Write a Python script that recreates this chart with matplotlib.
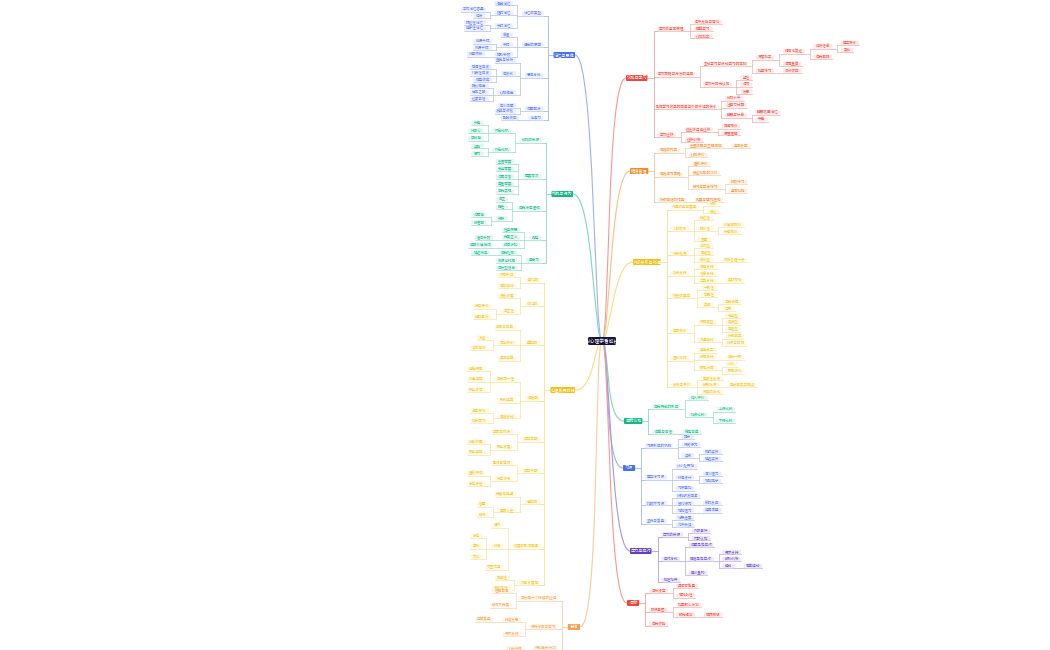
import matplotlib.pyplot as plt
from matplotlib.patches import FancyBboxPatch
from matplotlib.path import Path
from matplotlib.patches import PathPatch

plt.rcParams['font.family'] = ['Noto Sans CJK SC', 'DejaVu Sans']

root_label = '从心理学看成长'
root_pos = (602, 341)

# branch: label, side, colour, anchor (x, y), y-range of leaves, outline
branch_labels = ['认知与学习', '情绪管理', '人际关系与沟通', '自我认知', '习惯', '压力与应对', '目标',
                 '记忆与思维', '动机与行为', '心理发展阶段', '总结']
branch_sides = [1, 1, 1, 1, 1, 1, 1, -1, -1, -1, -1]
branch_colors = ['#f0453a', '#f08a2c', '#f2c21b', '#12b886', '#4c6ef5', '#5f3dc4', '#f0453a',
                 '#4c6ef5', '#12b886', '#f2c21b', '#f5a04a']
branch_pos = [(626, 78), (630, 171), (633, 262), (624, 421), (623, 468), (630, 551), (627, 603),
              (575, 55), (573, 194), (575, 390), (580, 627)]
branch_ranges = [(22, 140), (146, 200), (204, 392), (398, 432), (437, 525), (531, 580), (586, 624),
                 (3, 118), (123, 268), (275, 588), (591, 648)]

outline_red = """学习的基本原理
 条件反射与强化
 观察学习
 认知加工
学习策略与方法的选择
 主动学习与被动学习的区别
  深度加工
   精细化复述
    组织信息
     建立联系
     类比
    自我解释
   间隔重复
  检索练习
   测试效应
 学习中的元认知
  监控
  调节
  反思
影响学习效果的因素与外部环境的关系
 动机水平
 注意力分配
 睡眠与休息
  睡眠巩固记忆
  午睡
学习迁移
 近迁移与远迁移
  情境相似
  原理理解
 迁移训练"""

outline_orange = """情绪的构成
 生理唤醒与主观体验
  身体反应
 认知评价
情绪调节策略
 重新评价
 表达抑制的代价
 接纳与正念练习
  呼吸练习
  身体扫描
积极情绪的作用
 拓展与建构理论"""

outline_yellow = """沟通的基本要素
 倾听
 表达
人际吸引
 接近性
 相似性
  价值观相似
  兴趣相似
 互惠
冲突处理
 合作型
 回避型
 妥协型
  双方各退一步
社会支持
 情感支持
 信息支持
 工具支持
  实际帮助
信任的建立
 一致性
 可靠性
 真诚
  自我表露
  边界
亲密关系
 依恋类型
  安全型
  焦虑型
  回避型
 沟通模式
  积极回应
  批评与防御
团队协作
 角色分工
 共同目标
  目标一致
 群体决策
  从众
  群体极化
反馈与评价
 建设性反馈
 接受批评
  区分事实与观点
 赞美的方式"""

outline_teal = """自我概念的形成
 他人评价
 社会比较
  上行比较
  下行比较
自尊与自信
 稳定自尊"""

outline_blue = """习惯形成的机制
 提示
 惯常行为
 奖赏
  即时奖赏
  延迟奖赏
建立好习惯
 从小处开始
 环境设计
  减少阻力
  增加提示
 习惯叠加
打破坏习惯
 识别触发因素
 替代行为
  新的反应
 增加阻力
  远离诱惑
坚持与复盘
 记录进展
 允许失误"""

outline_indigo = """压力的来源
 外部事件
 内部认知
应对方式
 问题导向应对
 情绪导向应对
  寻求支持
  放松训练
  运动
   有氧运动
 意义重构
韧性培养"""

outline_red2 = """目标设定
 具体可衡量
 有挑战性
执行意图
 如果那么计划
 预先规划
  障碍预想
自我效能"""

outline_blue2 = """记忆的类型
 感觉记忆
 短时记忆
  工作记忆容量
  组块
 长时记忆
  陈述性记忆
  程序性记忆
遗忘的原因
 衰退
 干扰
  前摄干扰
  倒摄干扰
 提取失败
  线索依赖
思维方式
 直觉与分析
 启发式
  可得性启发
  代表性启发
  锚定效应
 认知偏差
  确认偏差
  后见之明
  过度自信
问题解决
 定义问题
 发散与收敛
创造力
 酝酿效应"""

outline_green2 = """动机的来源
 内在动机
  兴趣
  好奇心
  成就感
 外在动机
  奖励
  惩罚
需要层次
 生理需要
 安全需要
 归属与爱
 尊重需要
 自我实现
自我决定理论
 自主
 胜任
 关联
  归属感
  被理解
拖延
 任务厌恶
 完美主义
  害怕失败
 时间折扣
  远期价值低估
意志力
 自我控制
  延迟满足
 资源消耗观
 成长型信念"""

outline_yellow2 = """婴儿期
 依恋形成
 感知运动
幼儿期
 语言发展
 自主性
  独立尝试
  规则意识
童年期
 勤奋与自卑
 同伴关系
  友谊
  合作游戏
 具体运算
青春期
 自我同一性
  角色探索
  价值选择
  职业方向
 形式运算
 情绪波动
  激素变化
  社会压力
成年早期
 亲密与孤独
 职业发展
  技能积累
  职业选择
成年中期
 繁衍与停滞
 中年转变
  重新评估
  家庭责任
老年期
 完善与绝望
 回顾人生
  智慧
  接纳
发展的影响因素
 遗传
 环境
  家庭
  学校
  文化
 交互作用
终身发展观
 可塑性
 多方向性"""

outline_orange2 = """成长是一个持续的过程
 理解自己
 接纳不完美
保持好奇与学习
 持续反思
  定期复盘
 寻求反馈
行动胜于计划
 小步快跑"""

branch_outlines = [outline_red, outline_orange, outline_yellow, outline_teal, outline_blue,
                   outline_indigo, outline_red2, outline_blue2, outline_green2, outline_yellow2,
                   outline_orange2]


def parse(text):
    nodes = []
    stack = []
    for line in text.split('\n'):
        d = len(line) - len(line.lstrip(' '))
        node = {'label': line.strip(), 'depth': d, 'children': []}
        while stack and stack[-1]['depth'] >= d:
            stack.pop()
        if stack:
            stack[-1]['children'].append(node)
        else:
            nodes.append(node)
        stack.append(node)
    return nodes


def leaves(n):
    if not n['children']:
        return [n]
    out = []
    for c in n['children']:
        out += leaves(c)
    return out


def place_y(n):
    if n['children']:
        for c in n['children']:
            place_y(c)
        n['y'] = sum(c['y'] for c in n['children']) / len(n['children'])


def text_w(s):
    return len(s) * 3.1 + 6


def tint(hexc, a):
    r, g, b = [int(hexc[i:i + 2], 16) / 255 for i in (1, 3, 5)]
    return (1 - a * (1 - r), 1 - a * (1 - g), 1 - a * (1 - b))


fig = plt.figure(figsize=(10.5, 6.5), dpi=100)
ax = fig.add_axes([0, 0, 1, 1])
ax.set_xlim(0, 1050)
ax.set_ylim(650, 0)
ax.axis('off')


def draw_box(x, y, label, side, color, fill, tc, fs=2.6, h=4.4):
    w = text_w(label)
    x0 = x if side > 0 else x - w
    ax.add_patch(FancyBboxPatch((x0, y - h / 2), w, h, boxstyle='round,pad=0,rounding_size=1',
                                fc=fill, ec='none', zorder=3))
    ax.text(x0 + w / 2, y, label, fontsize=fs, color=tc, ha='center', va='center', zorder=4)
    return x0 + w if side > 0 else x0


def draw_node(n, x, side, color):
    end = draw_box(x, n['y'], n['label'], side, color, tint(color, 0.12), tint(color, 0.85))
    ax.plot([x, end], [n['y'] + 2.4] * 2, color=tint(color, 0.45), lw=0.5, zorder=2)
    if n['children']:
        jx = end + 5 * side
        ys = [c['y'] for c in n['children']]
        ax.plot([end, jx], [n['y'] + 2.4] * 2, color=tint(color, 0.45), lw=0.5, zorder=2)
        ax.plot([jx, jx], [min(ys) + 2.4, max(ys) + 2.4], color=tint(color, 0.45), lw=0.5, zorder=2)
        for c in n['children']:
            cx = jx + 4 * side
            ax.plot([jx, cx], [c['y'] + 2.4] * 2, color=tint(color, 0.45), lw=0.5, zorder=2)
            draw_node(c, cx, side, color)


for label, side, color, (bx, by), (y0, y1), text in zip(branch_labels, branch_sides, branch_colors,
                                                       branch_pos, branch_ranges, branch_outlines):
    tops = parse(text)
    all_leaves = []
    for t in tops:
        all_leaves += leaves(t)
    step = (y1 - y0) / max(len(all_leaves) - 1, 1)
    for i, lf in enumerate(all_leaves):
        lf['y'] = y0 + i * step
    for t in tops:
        place_y(t)
    # curve from root to branch
    rx, ry = root_pos
    verts = [(rx, ry), (rx + 8 * side, ry), (bx - 20 * side, by), (bx, by)]
    ax.add_patch(PathPatch(Path(verts, [Path.MOVETO, Path.CURVE4, Path.CURVE4, Path.CURVE4]),
                           fc='none', ec=tint(color, 0.55), lw=0.8, zorder=1))
    end = draw_box(bx, by, label, side, color, color, 'white', fs=3.0, h=6)
    jx = end + 6 * side
    ys = [t['y'] for t in tops]
    ax.plot([end, jx], [by, by], color=tint(color, 0.5), lw=0.6, zorder=2)
    ax.plot([jx, jx], [min(ys + [by]) + 2.4, max(ys + [by]) + 2.4], color=tint(color, 0.5), lw=0.6, zorder=2)
    for t in tops:
        ax.plot([jx, jx + 4 * side], [t['y'] + 2.4] * 2, color=tint(color, 0.5), lw=0.6, zorder=2)
        draw_node(t, jx + 4 * side, side, color)

rx, ry = root_pos
rw = 28
ax.add_patch(FancyBboxPatch((rx - rw / 2, ry - 4), rw, 8, boxstyle='round,pad=0,rounding_size=1.5',
                            fc='#15153a', ec='none', zorder=5))
ax.text(rx, ry, root_label, fontsize=3.4, color='white', ha='center', va='center', zorder=6)

fig.savefig('out.png', dpi=100, facecolor='white')
